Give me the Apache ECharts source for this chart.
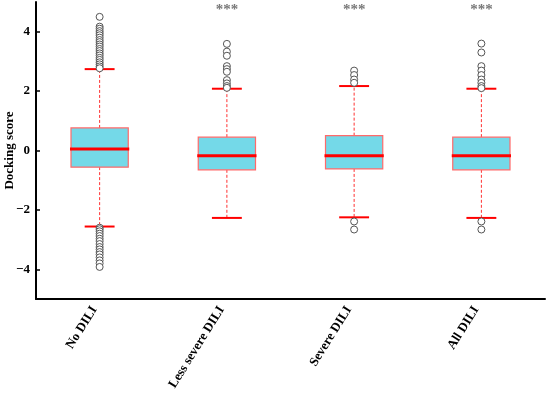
<!DOCTYPE html>
<html>
<head>
<meta charset="utf-8">
<script src="https://cdn.jsdelivr.net/npm/echarts@6/dist/echarts.min.js"></script>
<style>html,body{margin:0;padding:0;background:#fff}#c{width:547px;height:394px}</style>
</head>
<body>
<div id="c"></div>
<script>
const categories = ['No DILI', 'Less severe DILI', 'Severe DILI', 'All DILI'];
const lowerWhisker = [-2.56, -2.27, -2.25, -2.27];
const q1 = [-0.56, -0.65, -0.62, -0.65];
const median = [0.05, -0.18, -0.18, -0.18];
const q3 = [0.76, 0.45, 0.50, 0.45];
const upperWhisker = [2.74, 2.08, 2.17, 2.08];
const outliersNoDILI = [4.5, 4.17, 4.1, 4.02, 3.95, 3.88, 3.8, 3.72, 3.65, 3.57, 3.5, 3.42, 3.35, 3.27, 3.2, 3.12, 3.05, 2.97, 2.9, 2.83, 2.77,
  -2.6, -2.65, -2.72, -2.8, -2.88, -2.97, -3.05, -3.15, -3.25, -3.33, -3.42, -3.5, -3.6, -3.7, -3.8, -3.92];
const outliersLessSevere = [3.59, 3.33, 3.19, 2.84, 2.74, 2.65, 2.37, 2.26, 2.17, 2.11];
const outliersSevere = [2.69, 2.54, 2.39, 2.28, -2.39, -2.66];
const outliersAll = [3.6, 3.3, 2.84, 2.69, 2.54, 2.39, 2.28, 2.17, 2.1, -2.39, -2.66];
const significance = ['', '***', '***', '***'];
const yTicks = [-4, -2, 0, 2, 4];

const outlierGroups = [outliersNoDILI, outliersLessSevere, outliersSevere, outliersAll];
const boxData = categories.map((c, i) => [i, lowerWhisker[i], q1[i], median[i], q3[i], upperWhisker[i]]);
const outlierData = [];
outlierGroups.forEach((g, i) => g.forEach(v => outlierData.push([i, v])));
const sigData = significance.map((s, i) => [i, 4.72, s]).filter(d => d[2]);

const FONT = '"Liberation Serif", "Times New Roman", serif';

function renderBox(params, api) {
  const idx = api.value(0);
  const band = api.size([1, 0])[0];
  const boxW = band * 0.45;
  const capW = band * 0.235;
  const pLow = api.coord([idx, api.value(1)]);
  const pQ1 = api.coord([idx, api.value(2)]);
  const pMed = api.coord([idx, api.value(3)]);
  const pQ3 = api.coord([idx, api.value(4)]);
  const pHigh = api.coord([idx, api.value(5)]);
  const x = pMed[0];
  const red = '#ff0000';
  return {
    type: 'group',
    children: [
      { type: 'line', shape: { x1: x, y1: pQ3[1], x2: x, y2: pHigh[1] }, style: { stroke: '#ff3030', lineWidth: 1, lineDash: [3, 2] } },
      { type: 'line', shape: { x1: x, y1: pQ1[1], x2: x, y2: pLow[1] }, style: { stroke: '#ff3030', lineWidth: 1, lineDash: [3, 2] } },
      { type: 'line', shape: { x1: x - capW / 2, y1: pHigh[1], x2: x + capW / 2, y2: pHigh[1] }, style: { stroke: red, lineWidth: 2 } },
      { type: 'line', shape: { x1: x - capW / 2, y1: pLow[1], x2: x + capW / 2, y2: pLow[1] }, style: { stroke: red, lineWidth: 2 } },
      { type: 'rect', shape: { x: x - boxW / 2, y: pQ3[1], width: boxW, height: pQ1[1] - pQ3[1] }, style: { fill: '#74d9e8', stroke: '#ff6a6a', lineWidth: 1.2 } },
      { type: 'line', shape: { x1: x - boxW / 2 - 1, y1: pMed[1], x2: x + boxW / 2 + 1, y2: pMed[1] }, style: { stroke: red, lineWidth: 3 } }
    ]
  };
}

const chart = echarts.init(document.getElementById('c'), null, { renderer: 'canvas' });
chart.setOption({
  animation: false,
  backgroundColor: '#fff',
  grid: { left: 36, right: 2, top: 2, bottom: 95, containLabel: false, outerBoundsMode: 'none' },
  xAxis: {
    type: 'category',
    data: categories,
    boundaryGap: true,
    axisLine: { onZero: false, lineStyle: { color: '#000', width: 2 } },
    axisTick: { alignWithLabel: true, inside: true, length: 4, lineStyle: { color: '#000', width: 1.5 } },
    axisLabel: { rotate: 58, margin: 0, padding: [0, 10, 0, 0], color: '#000', fontFamily: FONT, fontWeight: 'bold', fontSize: 13, interval: 0 },
    splitLine: { show: false }
  },
  yAxis: {
    type: 'value',
    min: -5,
    max: 5,
    name: 'Docking score',
    nameLocation: 'middle',
    nameGap: 20,
    nameRotate: 90,
    nameMoveOverlap: false,
    nameTextStyle: { color: '#000', fontFamily: FONT, fontWeight: 'bold', fontSize: 13 },
    axisLine: { show: true, lineStyle: { color: '#000', width: 2 } },
    axisTick: { show: true, inside: true, length: 4, customValues: yTicks, lineStyle: { color: '#000', width: 1.5 } },
    axisLabel: { customValues: yTicks, margin: 6, color: '#000', fontFamily: FONT, fontWeight: 'bold', fontSize: 13,
      formatter: v => String(v).replace('-', '\u2212') },
    splitLine: { show: false }
  },
  series: [
    { type: 'custom', renderItem: renderBox, data: boxData, encode: { x: 0, y: [1, 2, 3, 4, 5] }, z: 2 },
    { type: 'scatter', data: outlierData, symbol: 'circle', symbolSize: 7,
      itemStyle: { color: '#fff', borderColor: '#555', borderWidth: 1, opacity: 1 }, z: 3 },
    { type: 'scatter', data: sigData, symbolSize: 0,
      label: { show: true, position: 'inside', formatter: p => p.data[2], color: '#555', fontFamily: FONT, fontWeight: 'bold', fontSize: 15 }, z: 4 }
  ]
});
</script>
</body>
</html>
